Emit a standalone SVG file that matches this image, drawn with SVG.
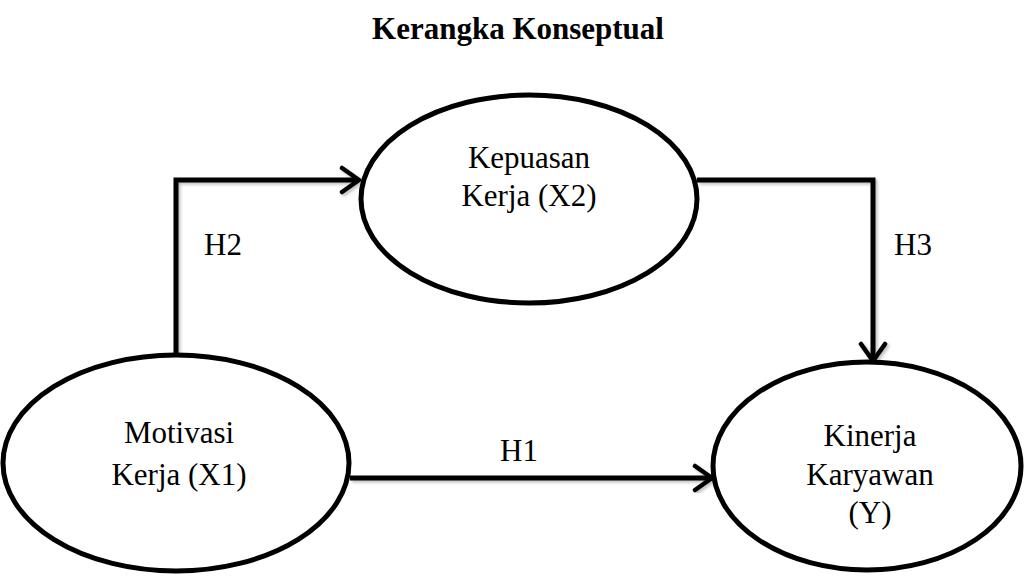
<svg xmlns="http://www.w3.org/2000/svg" width="1025" height="577" viewBox="0 0 1025 577">
<style>
.node{fill:#fff;stroke:#000;stroke-width:5}
.t{font-family:'Liberation Serif','Tinos','Times New Roman','DejaVu Serif',serif;font-size:31px;fill:#000;text-anchor:middle}
.c{fill:none;stroke:#000;stroke-width:5;stroke-linejoin:miter}
</style>
<defs>
<marker id="arr" viewBox="0 0 24 30" refX="20" refY="15" markerWidth="24" markerHeight="30" markerUnits="userSpaceOnUse" orient="auto">
<path d="M3 3 L20 15 L3 27" fill="none" stroke="#000" stroke-width="4.5" stroke-linecap="round" stroke-linejoin="round"/>
</marker>
<filter id="sh" x="-5%" y="-5%" width="110%" height="110%">
<feDropShadow dx="2" dy="2" stdDeviation="1.5" flood-color="#000" flood-opacity="0.25"/>
</filter>
</defs>
<text x="518" y="39" class="t" font-family="Liberation Serif, Times New Roman, serif" style="font-weight:bold">Kerangka Konseptual</text>
<g id="connectors" filter="url(#sh)">
<path class="c" d="M176 357 L176 180 L359 180" marker-end="url(#arr)"/>
<path class="c" d="M697 180 L873 180 L873 361" marker-end="url(#arr)"/>
<path class="c" d="M350 478 L712 478" marker-end="url(#arr)"/>
</g>
<g id="labels">
<text x="223" y="255" class="t" font-family="Liberation Serif, Times New Roman, serif">H2</text>
<text x="913" y="255" class="t" font-family="Liberation Serif, Times New Roman, serif">H3</text>
<text x="519" y="461" class="t" font-family="Liberation Serif, Times New Roman, serif">H1</text>
</g>
<g id="x2">
<ellipse class="node" cx="529" cy="199" rx="168" ry="104"/>
<text x="529" y="168" class="t" font-family="Liberation Serif, Times New Roman, serif">Kepuasan</text>
<text x="529" y="206" class="t" font-family="Liberation Serif, Times New Roman, serif">Kerja (X2)</text>
</g>
<g id="x1">
<ellipse class="node" cx="176" cy="463" rx="173" ry="108"/>
<text x="179" y="443" class="t" font-family="Liberation Serif, Times New Roman, serif">Motivasi</text>
<text x="179" y="485" class="t" font-family="Liberation Serif, Times New Roman, serif">Kerja (X1)</text>
</g>
<g id="y">
<ellipse class="node" cx="867" cy="466" rx="154" ry="104"/>
<text x="870" y="446" class="t" font-family="Liberation Serif, Times New Roman, serif">Kinerja</text>
<text x="870" y="485" class="t" font-family="Liberation Serif, Times New Roman, serif">Karyawan</text>
<text x="870" y="523" class="t" font-family="Liberation Serif, Times New Roman, serif">(Y)</text>
</g>
</svg>
